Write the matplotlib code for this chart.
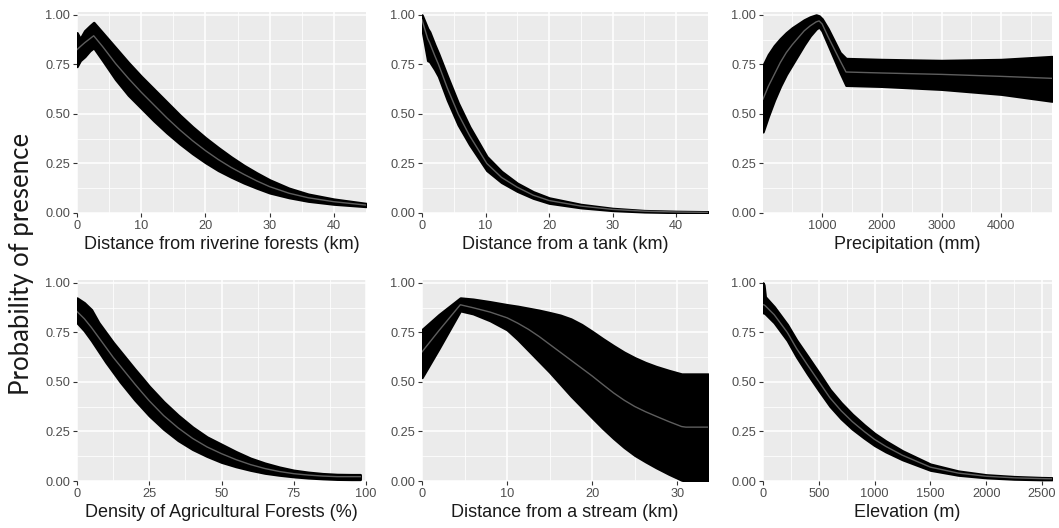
import matplotlib
matplotlib.use("Agg")
import matplotlib.pyplot as plt

# ---------------- data ----------------
# Panel 1: Distance from riverine forests (km)
river_x = [0, 0.5, 1.2, 2.0, 2.6, 4, 6, 8, 10, 12, 14, 16, 18, 20, 22, 24, 26, 28, 30, 33, 36, 40, 45]
river_mid = [0.825, 0.84, 0.86, 0.88, 0.895, 0.84, 0.755, 0.68, 0.61, 0.545, 0.48, 0.42, 0.365, 0.315, 0.27, 0.23, 0.195, 0.162, 0.133, 0.10, 0.077, 0.057, 0.04]
river_lo = [0.74, 0.77, 0.79, 0.82, 0.835, 0.77, 0.675, 0.595, 0.53, 0.465, 0.405, 0.35, 0.30, 0.255, 0.215, 0.182, 0.152, 0.126, 0.102, 0.078, 0.06, 0.045, 0.033]
river_hi = [0.91, 0.88, 0.92, 0.945, 0.962, 0.91, 0.835, 0.76, 0.69, 0.625, 0.56, 0.495, 0.435, 0.38, 0.33, 0.283, 0.24, 0.202, 0.167, 0.125, 0.095, 0.07, 0.048]

# Panel 2: Distance from a tank (km)
tank_x = [0, 0.9, 1.2, 2, 2.6, 4, 5.7, 7.5, 10.2, 12.5, 15, 17.5, 20, 25, 30, 35, 40, 45]
tank_mid = [0.975, 0.88, 0.86, 0.795, 0.75, 0.63, 0.5, 0.39, 0.25, 0.18, 0.13, 0.09, 0.063, 0.035, 0.018, 0.009, 0.005, 0.003]
tank_lo = [0.93, 0.77, 0.765, 0.725, 0.69, 0.57, 0.445, 0.345, 0.215, 0.155, 0.11, 0.075, 0.05, 0.027, 0.013, 0.006, 0.003, 0.002]
tank_hi = [1.0, 0.93, 0.915, 0.85, 0.805, 0.69, 0.555, 0.435, 0.285, 0.21, 0.15, 0.107, 0.076, 0.043, 0.023, 0.012, 0.008, 0.006]

# Panel 3: Precipitation (mm)
prec_x = [10, 100, 200, 300, 400, 500, 600, 700, 800, 900, 950, 1000, 1100, 1200, 1300, 1400, 2000, 3000, 4000, 4850]
prec_mid = [0.575, 0.64, 0.70, 0.76, 0.81, 0.85, 0.885, 0.92, 0.945, 0.965, 0.97, 0.955, 0.89, 0.83, 0.77, 0.712, 0.707, 0.70, 0.69, 0.68]
prec_lo = [0.41, 0.49, 0.57, 0.64, 0.70, 0.75, 0.80, 0.85, 0.895, 0.93, 0.94, 0.92, 0.85, 0.78, 0.71, 0.645, 0.64, 0.625, 0.60, 0.565]
prec_hi = [0.745, 0.80, 0.845, 0.88, 0.91, 0.935, 0.955, 0.975, 0.99, 1.0, 0.995, 0.98, 0.93, 0.87, 0.81, 0.78, 0.775, 0.77, 0.775, 0.79]

# Panel 4: Density of Agricultural Forests (%)
agri_x = [0, 2.5, 5, 7.5, 10, 12.5, 15, 17.5, 20, 22.5, 25, 30, 35, 40, 45, 50, 55, 60, 65, 70, 75, 80, 85, 90, 95, 98]
agri_mid = [0.856, 0.82, 0.775, 0.725, 0.675, 0.625, 0.58, 0.535, 0.49, 0.447, 0.405, 0.33, 0.268, 0.215, 0.172, 0.138, 0.108, 0.083, 0.063, 0.048, 0.037, 0.03, 0.025, 0.022, 0.022, 0.022]
agri_lo = [0.80, 0.76, 0.71, 0.655, 0.60, 0.55, 0.50, 0.455, 0.41, 0.37, 0.33, 0.262, 0.205, 0.16, 0.125, 0.095, 0.073, 0.055, 0.04, 0.03, 0.022, 0.016, 0.012, 0.009, 0.008, 0.008]
agri_hi = [0.924, 0.90, 0.865, 0.80, 0.75, 0.70, 0.655, 0.61, 0.565, 0.522, 0.478, 0.40, 0.332, 0.272, 0.222, 0.185, 0.148, 0.115, 0.09, 0.07, 0.054, 0.044, 0.037, 0.033, 0.032, 0.032]

# Panel 5: Distance from a stream (km)
stream_x = [0, 2, 4.5, 6, 8, 10, 11.25, 12.5, 13.75, 15, 16.25, 17.5, 18.75, 20, 21.25, 22.5, 23.75, 25, 26.25, 27.5, 29, 30.5, 31, 33.6]
stream_mid = [0.652, 0.76, 0.89, 0.875, 0.853, 0.824, 0.797, 0.766, 0.73, 0.69, 0.65, 0.61, 0.57, 0.53, 0.487, 0.445, 0.408, 0.376, 0.35, 0.327, 0.30, 0.275, 0.272, 0.272]
stream_lo = [0.523, 0.67, 0.86, 0.845, 0.81, 0.764, 0.715, 0.66, 0.605, 0.55, 0.49, 0.43, 0.375, 0.32, 0.266, 0.216, 0.17, 0.13, 0.098, 0.068, 0.035, 0.005, 0.0, 0.0]
stream_hi = [0.764, 0.84, 0.924, 0.918, 0.905, 0.89, 0.882, 0.872, 0.862, 0.85, 0.837, 0.818, 0.79, 0.755, 0.718, 0.683, 0.65, 0.622, 0.598, 0.578, 0.558, 0.54, 0.54, 0.54]

# Panel 6: Elevation (m)
elev_x = [0, 8, 20, 100, 218, 300, 400, 503, 600, 700, 800, 907, 1000, 1100, 1250, 1500, 1750, 2000, 2250, 2500, 2590]
elev_mid = [0.89, 0.89, 0.885, 0.84, 0.75, 0.67, 0.585, 0.5, 0.42, 0.355, 0.30, 0.25, 0.21, 0.175, 0.13, 0.07, 0.04, 0.024, 0.016, 0.012, 0.011]
elev_lo = [0.85, 0.85, 0.845, 0.80, 0.71, 0.628, 0.54, 0.455, 0.378, 0.315, 0.263, 0.217, 0.18, 0.148, 0.108, 0.055, 0.03, 0.017, 0.01, 0.007, 0.007]
elev_hi = [1.0, 0.99, 0.93, 0.88, 0.79, 0.712, 0.63, 0.545, 0.462, 0.395, 0.337, 0.283, 0.24, 0.202, 0.152, 0.085, 0.05, 0.031, 0.022, 0.017, 0.016]

xlabels = ["Distance from riverine forests (km)", "Distance from a tank (km)", "Precipitation (mm)",
           "Density of Agricultural Forests (%)", "Distance from a stream (km)", "Elevation (m)"]
xmajors = [[0, 10, 20, 30, 40], [0, 10, 20, 30, 40], [1000, 2000, 3000, 4000],
           [0, 25, 50, 75, 100], [0, 10, 20, 30], [0, 500, 1000, 1500, 2000, 2500]]
xminors = [[5, 15, 25, 35], [5, 15, 25, 35], [500, 1500, 2500, 3500, 4500],
           [12.5, 37.5, 62.5, 87.5], [5, 15, 25], [250, 750, 1250, 1750, 2250]]
xlims = [(0, 45), (0, 45), (10, 4850), (0, 100), (0, 33.6), (0, 2590)]
ymajors = [0, 0.25, 0.5, 0.75, 1.0]
ylabels_txt = ["0.00", "0.25", "0.50", "0.75", "1.00"]
yminors = [0.125, 0.375, 0.625, 0.875]

panels = [
    (river_x, river_lo, river_mid, river_hi),
    (tank_x, tank_lo, tank_mid, tank_hi),
    (prec_x, prec_lo, prec_mid, prec_hi),
    (agri_x, agri_lo, agri_mid, agri_hi),
    (stream_x, stream_lo, stream_mid, stream_hi),
    (elev_x, elev_lo, elev_mid, elev_hi),
]

# ---------------- layout ----------------
W, H = 1059, 528
fig = plt.figure(figsize=(W / 100, H / 100), dpi=100)
fig.patch.set_facecolor("white")

col_l = [77, 422, 763]
col_r = [366, 708, 1052]
row_t = [12, 280]
row_b = [213, 481]

tick_font = dict(family="Liberation Sans", size=9.2, color="#4D4D4D")
lab_font = dict(family="Liberation Sans", size=13, color="#1A1A1A")

for i, (xs, lo, mid, hi) in enumerate(panels):
    r, c = divmod(i, 3)
    l, rr = col_l[c], col_r[c]
    t, b = row_t[r], row_b[r]
    ax = fig.add_axes([l / W, 1 - b / H, (rr - l) / W, (b - t) / H])
    ax.set_facecolor("#EBEBEB")
    for s in ax.spines.values():
        s.set_visible(False)
    ax.set_xlim(*xlims[i])
    ax.set_ylim(0, 1.015)
    ax.set_xticks(xmajors[i])
    ax.set_xticks(xminors[i], minor=True)
    ax.set_yticks(ymajors)
    ax.set_yticks(yminors, minor=True)
    ax.set_yticklabels(ylabels_txt, fontdict=tick_font)
    ax.set_xticklabels([str(v) for v in xmajors[i]], fontdict=tick_font)
    ax.grid(which="major", color="white", linewidth=1.1)
    ax.grid(which="minor", color="white", linewidth=0.55)
    ax.set_axisbelow(True)
    ax.tick_params(which="major", length=2.8, width=0.8, color="#333333", pad=2)
    ax.tick_params(axis="x", which="major", pad=2.5)
    ax.tick_params(which="minor", length=0)
    ax.fill_between(xs, lo, hi, facecolor="black", edgecolor="black", linewidth=1.8,
                    joinstyle="round", zorder=3)
    ax.plot(xs, mid, color="#5E5E5E", linewidth=1.0, zorder=4)
    ax.set_xlabel(xlabels[i], fontdict=lab_font, labelpad=2.5)

fig.text(22 / W, 1 - 264 / H, "Probability of presence", rotation=90,
         ha="center", va="center", fontsize=18.5, family="Lato", color="#1A1A1A")

fig.savefig("out.png", dpi=100)
